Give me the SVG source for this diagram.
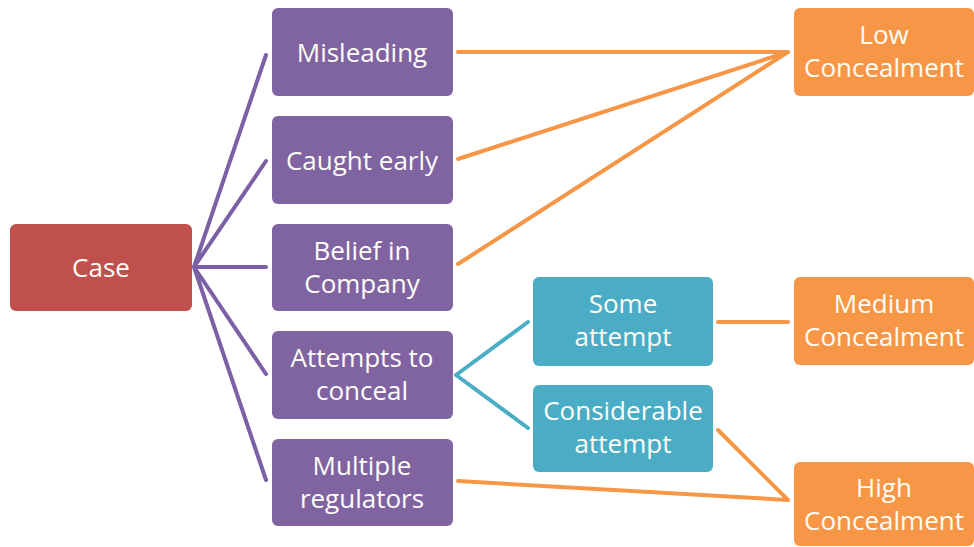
<svg xmlns="http://www.w3.org/2000/svg" width="974" height="547" viewBox="0 0 974 547">
  <style>
    .box { stroke: none; }
    .red { fill: #C0504D; }
    .purple { fill: #8064A2; }
    .teal { fill: #4BACC6; }
    .orange { fill: #F79646; }
    .lbl { font-family: "Open Sans", "Liberation Sans", sans-serif; font-size: 26px; fill: #FDFDF6; text-anchor: middle; }
    .c-purple { stroke: #7B60A6; stroke-width: 4; fill: none; stroke-linecap: round; }
    .c-teal { stroke: #4BACC6; stroke-width: 4; fill: none; stroke-linecap: round; }
    .c-orange { stroke: #F79646; stroke-width: 4; fill: none; stroke-linecap: round; }
  </style>
  <rect width="974" height="547" fill="#FFFFFF"/>

  <g id="connectors">
    <path class="c-purple" d="M194 267 L266 55 M194 267 L266 161 M194 267 L266 267 M194 267 L266 374 M194 267 L266 480"/>
    <path class="c-teal" d="M456 375 L528 322 M456 375 L528 428"/>
    <path class="c-orange" d="M458 52 L788 52 M458 159 L788 52 M458 264 L788 52"/>
    <path class="c-orange" d="M718 322 L788 322"/>
    <path class="c-orange" d="M718 430 L788 500 M458 481 L788 500"/>
  </g>

  <g id="case">
    <rect class="box red" x="10" y="224" width="182" height="87" rx="6"/>
    <text class="lbl" x="101" y="277">Case</text>
  </g>

  <g id="misleading">
    <rect class="box purple" x="272" y="8" width="181" height="88" rx="6"/>
    <text class="lbl" x="362" y="62">Misleading</text>
  </g>
  <g id="caught-early">
    <rect class="box purple" x="272" y="116" width="181" height="88" rx="6"/>
    <text class="lbl" x="362" y="170">Caught early</text>
  </g>
  <g id="belief">
    <rect class="box purple" x="272" y="224" width="181" height="87" rx="6"/>
    <text class="lbl" x="362" y="260">Belief in</text>
    <text class="lbl" x="362" y="293">Company</text>
  </g>
  <g id="attempts">
    <rect class="box purple" x="272" y="331" width="181" height="88" rx="6"/>
    <text class="lbl" x="362" y="367">Attempts to</text>
    <text class="lbl" x="362" y="400">conceal</text>
  </g>
  <g id="multiple">
    <rect class="box purple" x="272" y="439" width="181" height="87" rx="6"/>
    <text class="lbl" x="362" y="475">Multiple</text>
    <text class="lbl" x="362" y="508">regulators</text>
  </g>

  <g id="some-attempt">
    <rect class="box teal" x="533" y="277" width="180" height="89" rx="6"/>
    <text class="lbl" x="623" y="313">Some</text>
    <text class="lbl" x="623" y="346">attempt</text>
  </g>
  <g id="considerable-attempt">
    <rect class="box teal" x="533" y="385" width="180" height="87" rx="6"/>
    <text class="lbl" x="623" y="420">Considerable</text>
    <text class="lbl" x="623" y="453">attempt</text>
  </g>

  <g id="low">
    <rect class="box orange" x="794" y="8" width="180" height="88" rx="6"/>
    <text class="lbl" x="884" y="44">Low</text>
    <text class="lbl" x="884" y="77">Concealment</text>
  </g>
  <g id="medium">
    <rect class="box orange" x="794" y="277" width="180" height="88" rx="6"/>
    <text class="lbl" x="884" y="313">Medium</text>
    <text class="lbl" x="884" y="346">Concealment</text>
  </g>
  <g id="high">
    <rect class="box orange" x="794" y="462" width="180" height="84" rx="6"/>
    <text class="lbl" x="884" y="497">High</text>
    <text class="lbl" x="884" y="530">Concealment</text>
  </g>
</svg>
